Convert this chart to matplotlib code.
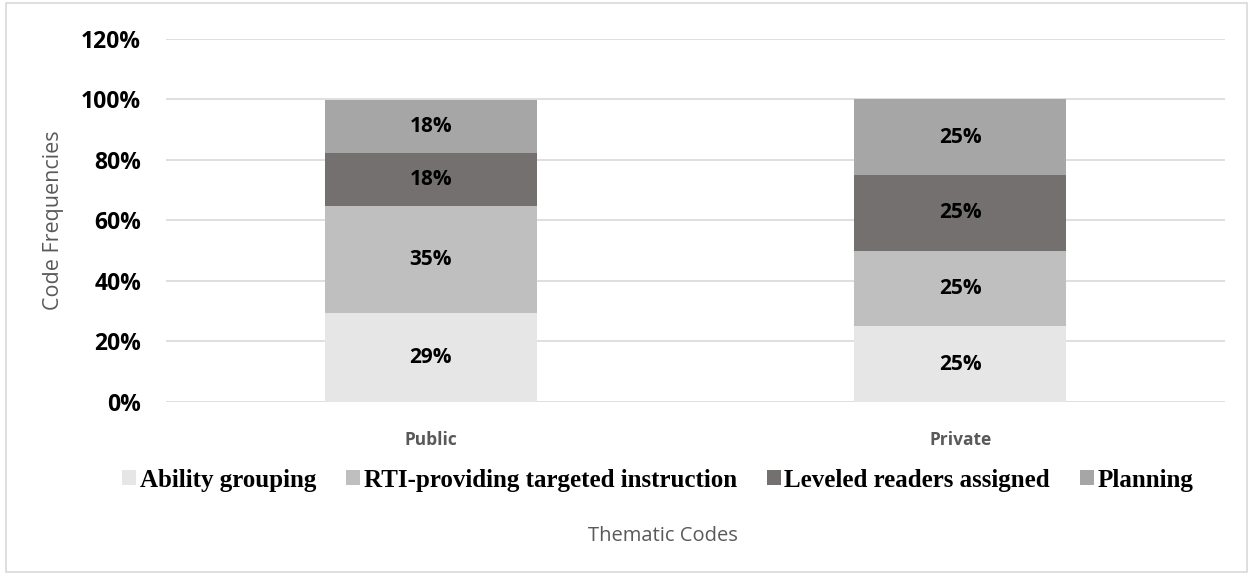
import numpy as np
import matplotlib.pyplot as plt
from matplotlib.patches import Rectangle, Patch

# Dados
categorias = ['Public', 'Private']
series = ['Ability grouping', 'RTI-providing targeted instruction',
          'Leveled readers assigned', 'Planning']
ability = [0.294, 0.25]
rti = [0.353, 0.25]
leveled = [0.176, 0.25]
planning = [0.176, 0.25]
rotulos = [['29%', '25%'], ['35%', '25%'], ['18%', '25%'], ['18%', '25%']]
cores = ['#E6E6E6', '#BFBFBF', '#747070', '#A6A6A6']
yticks = [0, 0.2, 0.4, 0.6, 0.8, 1.0, 1.2]

fig = plt.figure(figsize=(12.53, 5.75), dpi=100)
ax = fig.add_axes([0.1325, 0.3009, 0.8452, 0.6313])

x = np.arange(len(categorias))
base = np.zeros(len(categorias))
for vals, cor, labs in zip([ability, rti, leveled, planning], cores, rotulos):
    bars = ax.bar(x, vals, bottom=base, width=0.4, color=cor, zorder=3)
    for b, lab in zip(bars, labs):
        ax.text(b.get_x() + b.get_width() / 2, b.get_y() + b.get_height() / 2, lab,
                ha='center', va='center', fontsize=15, fontweight='bold',
                family='Open Sans', color='black', zorder=4)
    base += np.array(vals)

ax.set_xlim(-0.5, 1.5)
ax.set_ylim(0, 1.2)
ax.set_yticks(yticks)
ax.set_yticklabels([f'{int(round(v * 100))}%' for v in yticks],
                   fontsize=16.5, fontweight='bold', family='Open Sans')
ax.set_xticks(x)
ax.set_xticklabels(categorias, fontsize=12.5, fontweight='bold',
                   family='Open Sans', color='#595959')
ax.tick_params(axis='both', length=0)
ax.tick_params(axis='y', pad=18)
ax.tick_params(axis='x', pad=21)
ax.grid(axis='y', color='#D9D9D9', linewidth=1.2, zorder=0)
for s in ax.spines.values():
    s.set_visible(False)

ax.set_ylabel('Code Frequencies', fontsize=15.5, family='Open Sans',
              color='#595959', labelpad=12)

handles = [Patch(facecolor=c, edgecolor='none') for c in cores]
fig.legend(handles, series, loc='center', bbox_to_anchor=(0.525, 0.165), ncol=4,
           frameon=False, prop={'family': 'Liberation Serif', 'weight': 'bold', 'size': 18},
           handlelength=0.55, handleheight=0.55, handletextpad=0.15, columnspacing=1.2)

fig.text(0.529, 0.068, 'Thematic Codes', ha='center', va='center', fontsize=14.5,
         family='Open Sans', color='#595959')

fig.patches.append(Rectangle((0.005, 0.005), 0.99, 0.99, transform=fig.transFigure,
                             fill=False, edgecolor='#D9D9D9', linewidth=1.2))

fig.savefig('out.png', dpi=100)
